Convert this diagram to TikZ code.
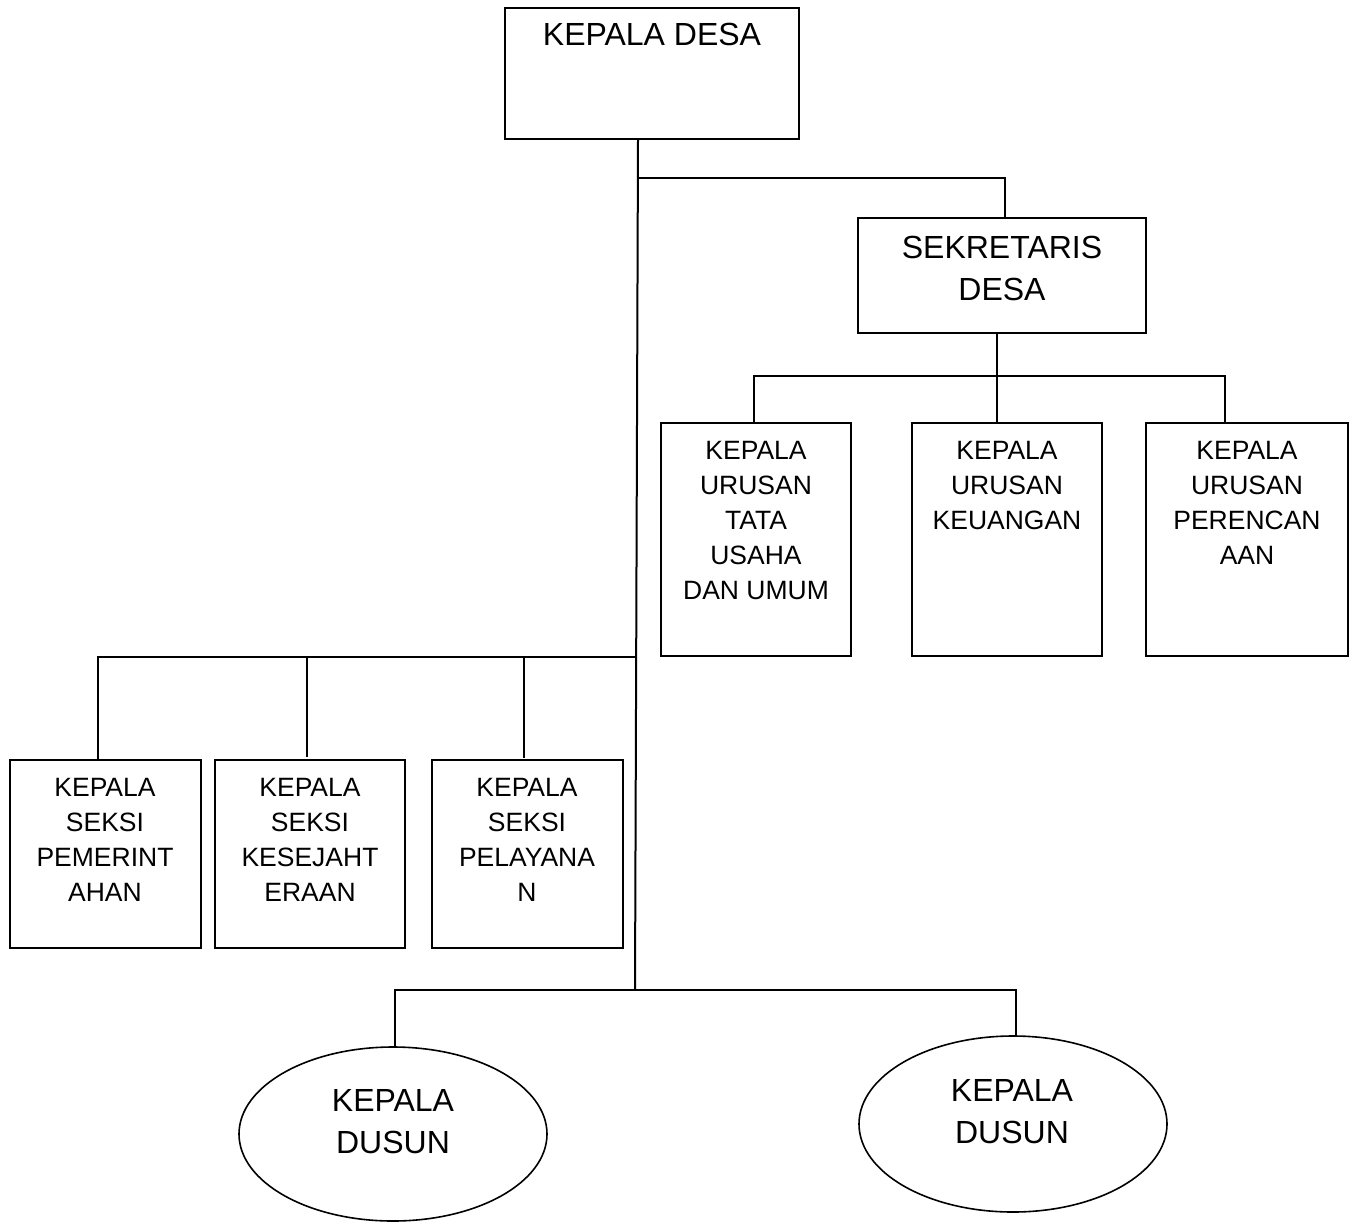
\documentclass[tikz,border=0pt]{standalone}
\usepackage{fontspec}
\setmainfont{Liberation Sans}
\usetikzlibrary{shapes.geometric}
\begin{document}
\begin{tikzpicture}[x=1pt,y=-1pt,
  ln/.style={line width=2pt,black},
  bx/.style={draw,line width=2pt,rectangle,inner sep=0pt},
  ov/.style={draw,line width=1.6pt,ellipse,inner sep=0pt},
  small/.style={anchor=north,inner sep=0pt,align=center,font=\fontsize{26.5}{35}\selectfont},
  big/.style={anchor=north,inner sep=0pt,align=center,font=\fontsize{32}{42}\selectfont}]
\useasboundingbox (0,0) rectangle (1359,1221);
% boxes
\node[bx,minimum width=294,minimum height=131] (kd) at (652,73.5) {};
\node[bx,minimum width=288,minimum height=115] (sd) at (1002,275.5) {};
\node[bx,minimum width=190,minimum height=233] (ku1) at (756,539.5) {};
\node[bx,minimum width=190,minimum height=233] (ku2) at (1007,539.5) {};
\node[bx,minimum width=202,minimum height=233] (ku3) at (1247,539.5) {};
\node[bx,minimum width=191,minimum height=188] (ks1) at (105.5,854) {};
\node[bx,minimum width=190,minimum height=188] (ks2) at (310,854) {};
\node[bx,minimum width=191,minimum height=188] (ks3) at (527.5,854) {};
\node[ov,minimum width=308,minimum height=174] (kdu1) at (393,1134) {};
\node[ov,minimum width=308,minimum height=176] (kdu2) at (1013,1124) {};
% texts
\node[big] (t0) at (652,23) {KEPALA DESA};
\node[big] (t1) at (1002,236) {SEKRETARIS\\DESA};
\node[small] (t2) at (756,441) {KEPALA\\URUSAN\\TATA\\USAHA\\DAN UMUM};
\node[small] (t3) at (1007,441) {KEPALA\\URUSAN\\KEUANGAN};
\node[small] (t4) at (1247,441) {KEPALA\\URUSAN\\PERENCAN\\AAN};
\node[small] (t5) at (105,778) {KEPALA\\SEKSI\\PEMERINT\\AHAN};
\node[small] (t6) at (310,778) {KEPALA\\SEKSI\\KESEJAHT\\ERAAN};
\node[small] (t7) at (527,778) {KEPALA\\SEKSI\\PELAYANA\\N};
\node[big] (t8) at (393,1089) {KEPALA\\DUSUN};
\node[big] (t9) at (1012,1079) {KEPALA\\DUSUN};
% junction coordinates
\coordinate (m0) at (638,139);
\coordinate (m1) at (637.8,178);
\coordinate (m2) at (636,657);
\coordinate (m3) at (635,990);
\coordinate (r1) at (1005,178);
\coordinate (s0) at (997,333);
\coordinate (s1) at (997,376);
\coordinate (sl) at (754,376);
\coordinate (sr) at (1225,376);
\coordinate (l1) at (98,657);
\coordinate (l2) at (307,657);
\coordinate (l3) at (524,657);
\coordinate (b1) at (395,990);
\coordinate (b2) at (1016,990);
% connectors
\draw[ln] (m0) -- (m3);
\draw[ln] (m1) -- (r1) -- (r1 |- sd.north);
\draw[ln] (s0) -- (s0 |- ku2.north);
\draw[ln] (sl |- ku1.north) -- (sl) -- (sr) -- (sr |- ku3.north);
\draw[ln] (l1 |- ks1.north) -- (l1) -- (m2);
\draw[ln] (l2) -- (307,757);
\draw[ln] (l3) -- (524,758);
\draw[ln] (b1 |- kdu1.north) -- (b1) -- (b2) -- (1016,1036);
\end{tikzpicture}
\end{document}
